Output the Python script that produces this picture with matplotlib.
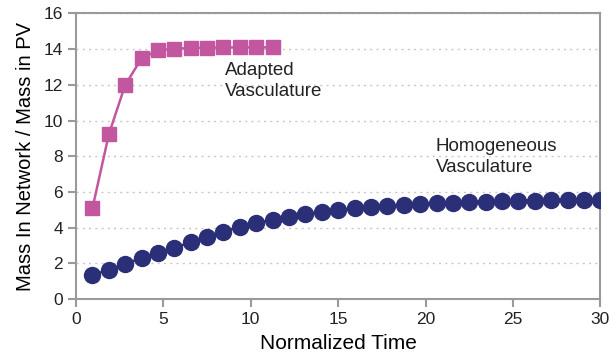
import matplotlib
matplotlib.use("Agg")
import matplotlib.pyplot as plt

plt.rcParams['font.family'] = ['Liberation Sans', 'DejaVu Sans']

# normalized time steps (30/32 spacing)
time_homog = [0.94, 1.88, 2.81, 3.75, 4.69, 5.63, 6.56, 7.50, 8.44, 9.38, 10.31,
              11.25, 12.19, 13.13, 14.06, 15.00, 15.94, 16.88, 17.81, 18.75,
              19.69, 20.63, 21.56, 22.50, 23.44, 24.38, 25.31, 26.25, 27.19,
              28.13, 29.06, 30.00]
mass_homog = [1.35, 1.63, 1.96, 2.30, 2.58, 2.87, 3.17, 3.50, 3.78, 4.05, 4.25,
              4.45, 4.60, 4.75, 4.90, 5.00, 5.08, 5.15, 5.22, 5.28, 5.32, 5.36,
              5.40, 5.43, 5.46, 5.48, 5.50, 5.51, 5.52, 5.53, 5.54, 5.55]

time_adapt = [0.94, 1.88, 2.81, 3.75, 4.69, 5.63, 6.56, 7.50, 8.44, 9.38, 10.31, 11.25]
mass_adapt = [5.08, 9.23, 11.98, 13.48, 13.93, 14.02, 14.06, 14.08, 14.09, 14.10, 14.10, 14.10]

pink = "#c2569f"
navy = "#2a2f78"
grey = "#9a9a9a"

fig = plt.figure(figsize=(6.11, 3.62), dpi=100)
ax = fig.add_axes([0.1244, 0.174, 0.858, 0.789])

ax.plot(time_homog, mass_homog, color=navy, marker='o', markersize=11.5,
        linewidth=1.8, zorder=3)
ax.plot(time_adapt, mass_adapt, color=pink, marker='s', markersize=10.5,
        linewidth=1.8, zorder=3)

ax.set_xlim(0, 30)
ax.set_ylim(0, 16)
ax.set_xticks(range(0, 31, 5))
ax.set_yticks(range(0, 17, 2))
ax.yaxis.grid(True, linestyle=(0, (1.5, 3)), color="#c8c8c8", linewidth=1)
ax.set_axisbelow(True)

for s in ax.spines.values():
    s.set_color(grey)
    s.set_linewidth(1.5)
ax.tick_params(direction='out', color=grey, width=1.5, length=6,
               labelsize=12.5, colors="#222222")
ax.tick_params(axis='both', colors=grey, labelcolor="#222222")

ax.set_xlabel("Normalized Time", fontsize=15, labelpad=5)
ax.set_ylabel("Mass In Network / Mass in PV", fontsize=14.5, labelpad=6)

ax.text(8.5, 13.25, "Adapted\nVasculature", fontsize=13.5, va='top', ha='left',
        color="#222222", linespacing=1.3)
ax.text(20.6, 9.0, "Homogeneous\nVasculature", fontsize=13.5, va='top', ha='left',
        color="#222222", linespacing=1.3)

fig.savefig("out.png", dpi=100)
